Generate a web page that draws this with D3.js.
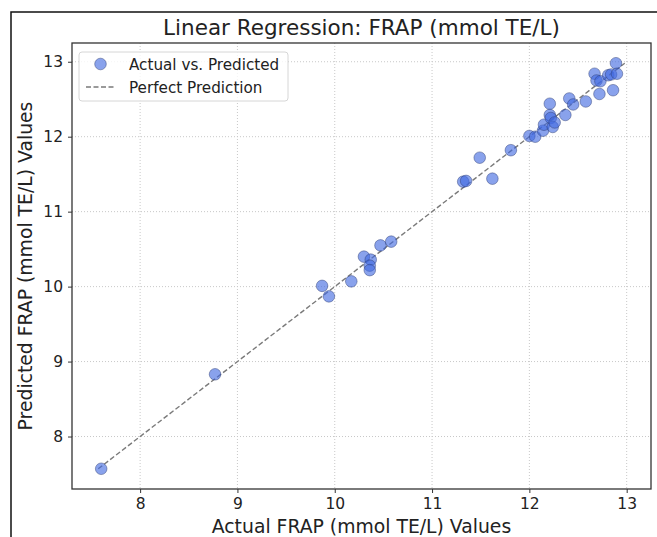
<!DOCTYPE html>
<html>
<head>
<meta charset="utf-8">
<script src="https://cdn.jsdelivr.net/npm/d3@7"></script>
<style>
  html, body { margin: 0; padding: 0; background: #fff; }
  svg { display: block; }
  text { font-family: "DejaVu Sans", sans-serif; fill: #222; }
</style>
</head>
<body>
<svg id="chart" width="657" height="537"></svg>
<script>
// ---- Data ----
const actualValues = [7.60, 8.77, 9.87, 9.94, 10.17, 10.30, 10.37, 10.36, 10.36, 10.47, 10.58,
  11.32, 11.35, 11.49, 11.62, 11.81, 12.00, 12.06, 12.14, 12.15, 12.21, 12.21, 12.22, 12.24,
  12.26, 12.37, 12.41, 12.45, 12.58, 12.67, 12.69, 12.73, 12.72, 12.81, 12.84, 12.86, 12.89, 12.90];
const predictedValues = [7.57, 8.83, 10.01, 9.87, 10.07, 10.40, 10.36, 10.28, 10.22, 10.55, 10.60,
  11.40, 11.41, 11.72, 11.44, 11.82, 12.01, 12.00, 12.08, 12.16, 12.44, 12.29, 12.25, 12.13,
  12.19, 12.29, 12.51, 12.43, 12.47, 12.84, 12.75, 12.74, 12.57, 12.82, 12.83, 12.62, 12.98, 12.84];
const perfectLine = [7.57, 12.98];
const xTicks = [8, 9, 10, 11, 12, 13];
const yTicks = [8, 9, 10, 11, 12, 13];
const axisDomain = [7.30, 13.25];
const titleText = "Linear Regression: FRAP (mmol TE/L)";
const xLabelText = "Actual FRAP (mmol TE/L) Values";
const yLabelText = "Predicted FRAP (mmol TE/L) Values";
const legendLabels = ["Actual vs. Predicted", "Perfect Prediction"];

// ---- Layout ----
const svg = d3.select("#chart");
const plot = { left: 72, right: 651, top: 43, bottom: 489 };

// outer figure frame (only left & top visible in crop)
svg.append("path")
  .attr("d", `M11,537 L11,12 L657,12`)
  .attr("fill", "none").attr("stroke", "#111").attr("stroke-width", 1.5);

const x = d3.scaleLinear().domain(axisDomain).range([plot.left, plot.right]);
const y = d3.scaleLinear().domain(axisDomain).range([plot.bottom, plot.top]);

// grid
const grid = svg.append("g");
grid.selectAll("line.gx").data(xTicks).join("line")
  .attr("x1", d => x(d)).attr("x2", d => x(d))
  .attr("y1", plot.top).attr("y2", plot.bottom)
  .attr("stroke", "#c8c8c8").attr("stroke-width", 1).attr("stroke-dasharray", "1,2");
grid.selectAll("line.gy").data(yTicks).join("line")
  .attr("y1", d => y(d)).attr("y2", d => y(d))
  .attr("x1", plot.left).attr("x2", plot.right)
  .attr("stroke", "#c8c8c8").attr("stroke-width", 1).attr("stroke-dasharray", "1,2");

// perfect prediction line
svg.append("line")
  .attr("x1", x(perfectLine[0])).attr("y1", y(perfectLine[0]))
  .attr("x2", x(perfectLine[1])).attr("y2", y(perfectLine[1]))
  .attr("stroke", "#7a7a7a").attr("stroke-width", 1.4).attr("stroke-dasharray", "5,2.5");

// points
const pts = actualValues.map((a, i) => ({ a, p: predictedValues[i] }));
svg.append("g").selectAll("circle").data(pts).join("circle")
  .attr("cx", d => x(d.a)).attr("cy", d => y(d.p)).attr("r", 5.8)
  .attr("fill", "#4169E1").attr("fill-opacity", 0.62)
  .attr("stroke", "#2a3a70").attr("stroke-opacity", 0.45).attr("stroke-width", 1);

// axes
const xAxis = svg.append("g").attr("transform", `translate(0,${plot.bottom})`)
  .call(d3.axisBottom(x).tickValues(xTicks).tickSize(4).tickPadding(5).tickFormat(d3.format("d")));
const yAxis = svg.append("g").attr("transform", `translate(${plot.left},0)`)
  .call(d3.axisLeft(y).tickValues(yTicks).tickSize(4).tickPadding(5).tickFormat(d3.format("d")));
[xAxis, yAxis].forEach(g => {
  g.select(".domain").remove();
  g.selectAll(".tick line").attr("stroke", "#333");
  g.selectAll(".tick text").attr("font-size", 15.5).attr("font-family", "DejaVu Sans").attr("fill", "#222");
});

// axes frame
svg.append("rect")
  .attr("x", plot.left).attr("y", plot.top)
  .attr("width", plot.right - plot.left).attr("height", plot.bottom - plot.top)
  .attr("fill", "none").attr("stroke", "#333").attr("stroke-width", 1.3);

// title & labels
svg.append("text").attr("x", (plot.left + plot.right) / 2).attr("y", 35)
  .attr("text-anchor", "middle").attr("font-size", 21.5).text(titleText);
svg.append("text").attr("x", (plot.left + plot.right) / 2).attr("y", 533)
  .attr("text-anchor", "middle").attr("font-size", 18.8).text(xLabelText);
svg.append("text").attr("transform", `translate(32,${(plot.top + plot.bottom) / 2}) rotate(-90)`)
  .attr("text-anchor", "middle").attr("font-size", 18.8).text(yLabelText);

// legend
const lg = svg.append("g");
lg.append("rect").attr("x", 79).attr("y", 52).attr("width", 209).attr("height", 49).attr("rx", 3)
  .attr("fill", "#fff").attr("fill-opacity", 0.8).attr("stroke", "#d6d6d6").attr("stroke-width", 1);
lg.append("circle").attr("cx", 100.5).attr("cy", 64).attr("r", 5.8)
  .attr("fill", "#4169E1").attr("fill-opacity", 0.62)
  .attr("stroke", "#2a3a70").attr("stroke-opacity", 0.45).attr("stroke-width", 1);
lg.append("line").attr("x1", 86).attr("x2", 115).attr("y1", 87).attr("y2", 87)
  .attr("stroke", "#7a7a7a").attr("stroke-width", 1.4).attr("stroke-dasharray", "5,2.5");
lg.selectAll("text.lt").data(legendLabels).join("text")
  .attr("x", 129).attr("y", (d, i) => 69.5 + i * 23.5)
  .attr("font-size", 15.2).text(d => d);
</script>
</body>
</html>
